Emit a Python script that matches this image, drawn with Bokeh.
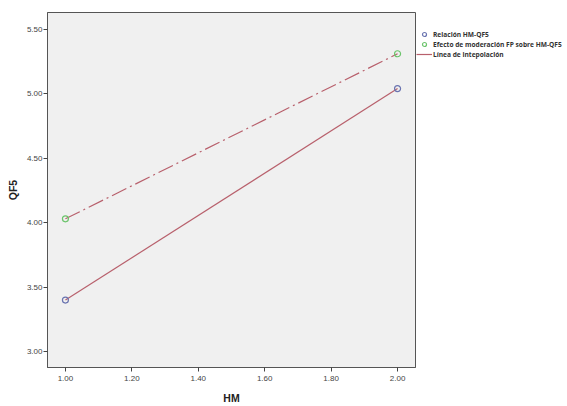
from bokeh.plotting import figure
from bokeh.layouts import row
from bokeh.models import Legend, LegendItem, Range1d, FixedTicker, CustomJSTickFormatter
from bokeh.embed import file_html
from bokeh.resources import INLINE

# Data
hm = [1.00, 2.00]
relacion_qf5 = [3.40, 5.04]
moderacion_qf5 = [4.03, 5.31]
x_ticks = [1.0, 1.2, 1.4, 1.6, 1.8, 2.0]
y_ticks = [3.0, 3.5, 4.0, 4.5, 5.0, 5.5]
series_names = ["Relación HM-QF5", "Efecto de moderación FP sobre HM-QF5", "Línea de intepolación"]

H = 406
p = figure(width=416, height=H, output_backend="svg", toolbar_location=None,
           x_range=Range1d(0.946, 2.054), y_range=Range1d(2.877, 5.63),
           min_border_left=47, min_border_right=1, min_border_top=12, min_border_bottom=37)

p.background_fill_color = "#f0f0f0"
p.border_fill_color = "white"
p.outline_line_color = "#555555"
p.outline_line_width = 1
p.grid.visible = False

line_color = "#b8606c"
blue = "#6a74b0"
green = "#6cc46c"
p.line(hm, relacion_qf5, line_color=line_color, line_width=1.2)
p.line(hm, moderacion_qf5, line_color=line_color, line_width=1.2, line_dash="16 4 2 4")
p.scatter(hm, relacion_qf5, marker="circle", size=6, fill_color=None,
          line_color=blue, line_width=1.2)
p.scatter(hm, moderacion_qf5, marker="circle", size=6, fill_color=None,
          line_color=green, line_width=1.2)

fmt = CustomJSTickFormatter(code="return tick.toFixed(2);")
for ax, ticks in ((p.xaxis[0], x_ticks), (p.yaxis[0], y_ticks)):
    ax.ticker = FixedTicker(ticks=ticks)
    ax.formatter = fmt
    ax.minor_tick_line_color = None
    ax.major_tick_in = 0
    ax.major_tick_out = 4
    ax.major_tick_line_color = "#444444"
    ax.axis_line_color = "#555555"
    ax.major_label_text_font = "Liberation Sans"
    ax.major_label_text_font_size = "8px"
    ax.major_label_text_color = "#444444"
    ax.axis_label_text_font = "Liberation Sans"
    ax.axis_label_text_font_style = "bold"
    ax.axis_label_text_font_size = "10.5px"
    ax.axis_label_text_color = "#222222"

p.xaxis.axis_label = "HM"
p.yaxis.axis_label = "QF5"
p.xaxis.major_label_standoff = 4
p.xaxis.axis_label_standoff = 8
p.yaxis.major_label_standoff = 1
p.yaxis.axis_label_standoff = 5

# Legend panel (separate figure to the right); its swatches sit outside the visible range
lg = figure(width=151, height=H, output_backend="svg", toolbar_location=None,
            x_range=Range1d(0, 1), y_range=Range1d(0, 1),
            min_border_left=0, min_border_right=0, min_border_top=0, min_border_bottom=0)
lg.axis.visible = False
lg.grid.visible = False
lg.outline_line_color = None
lg.background_fill_color = "white"
lg.border_fill_color = "white"
r1 = lg.scatter([-5], [-5], marker="circle", size=7, fill_color=None, line_color=blue, line_width=1.2)
r2 = lg.scatter([-5], [-5], marker="circle", size=7, fill_color=None, line_color=green, line_width=1.2)
r3 = lg.line([-6, -5], [-5, -5], line_color=line_color, line_width=1.2)

legend = Legend(items=[
    LegendItem(label=series_names[0], renderers=[r1]),
    LegendItem(label=series_names[1], renderers=[r2]),
    LegendItem(label=series_names[2], renderers=[r3]),
], location=(0, 308))
legend.background_fill_alpha = 0
legend.border_line_alpha = 0
legend.padding = 0
legend.margin = 0
legend.spacing = -2
legend.glyph_width = 16
legend.glyph_height = 10
legend.label_height = 10
legend.label_standoff = 1
legend.label_text_font = "Open Sans"
legend.label_text_font_style = "bold"
legend.label_text_font_size = "6.6px"
legend.label_text_color = "#333333"
legend.label_text_baseline = "middle"
lg.add_layout(legend, "center")

layout = row(p, lg, spacing=0)
open("out.html", "w").write(file_html(layout, INLINE))
